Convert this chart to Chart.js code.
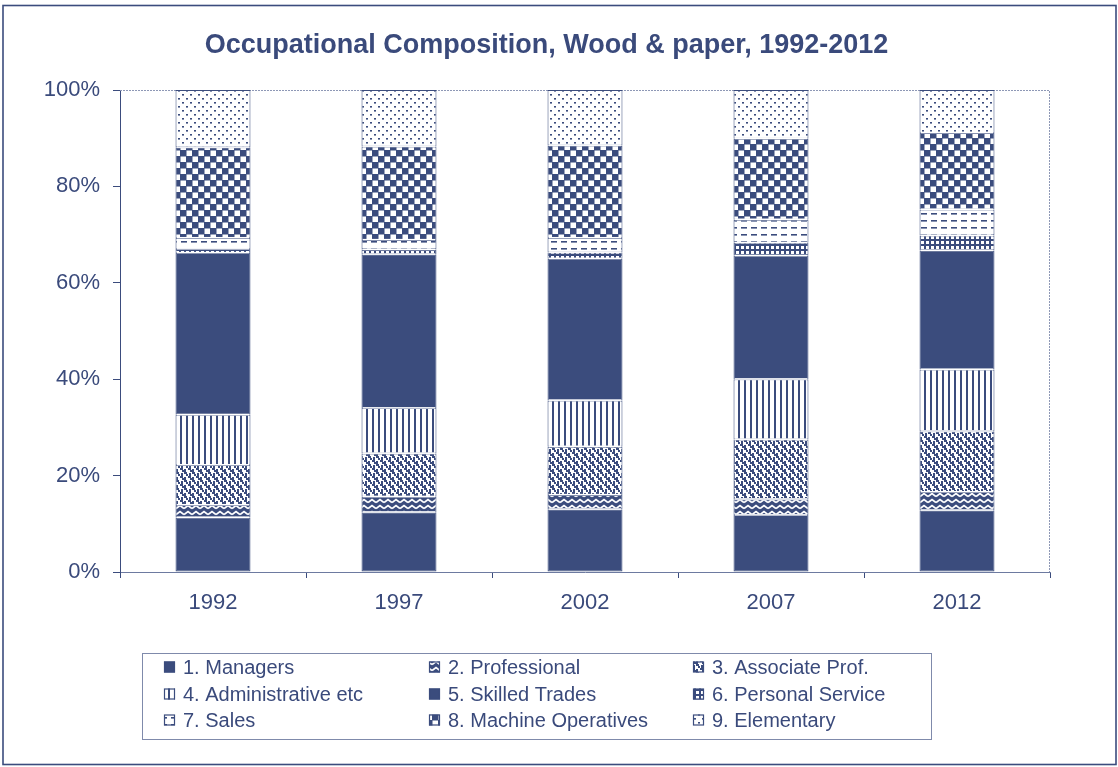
<!DOCTYPE html>
<html>
<head>
<meta charset="utf-8">
<script src="https://cdn.jsdelivr.net/npm/chart.js@4.4.1/dist/chart.umd.min.js"></script>
<style>
html,body{margin:0;padding:0;background:#fff;}
#wrap{width:1118px;height:767px;position:relative;}
canvas{display:block;}
</style>
</head>
<body>
<div id="wrap"><canvas id="c" width="1118" height="767"></canvas></div>
<script>
// ---- data (percent of employment) ----
const years = ['1992', '1997', '2002', '2007', '2012'];
const seriesLabels = ['1. Managers', '2. Professional', '3. Associate Prof.', '4. Administrative etc',
  '5. Skilled Trades', '6. Personal Service', '7. Sales', '8. Machine Operatives', '9. Elementary'];
const managers          = [11.3, 12.4, 13.0, 11.8, 12.8];
const professional      = [2.6, 3.2, 3.0, 3.3, 3.8];
const associateProf     = [8.3, 9.0, 10.0, 12.4, 12.6];
const administrative    = [10.4, 9.4, 9.6, 12.5, 12.8];
const skilledTrades     = [33.6, 31.9, 29.4, 25.6, 24.7];
const personalService   = [0.8, 1.0, 1.3, 2.7, 3.1];
const sales             = [2.3, 2.0, 3.0, 4.8, 5.4];
const machineOperatives = [18.8, 19.4, 19.2, 16.8, 15.9];
const elementary        = [11.9, 11.7, 11.5, 10.1, 8.9];
const yTickValues = [0, 20, 40, 60, 80, 100];
const titleText = 'Occupational Composition, Wood & paper, 1992-2012';

const BLUE = '#3b4c7d';
const TEXT = '#3a4a7b';
const FONT = "'Liberation Sans', Arial, sans-serif";

const canvas = document.getElementById('c');
const mainCtx = canvas.getContext('2d');

function tile(w, h, bg, draw) {
  const c = document.createElement('canvas');
  c.width = w; c.height = h;
  const x = c.getContext('2d');
  x.fillStyle = bg; x.fillRect(0, 0, w, h);
  x.fillStyle = BLUE; x.strokeStyle = BLUE;
  draw(x);
  return mainCtx.createPattern(c, 'repeat');
}

const patSolid = BLUE;
const patZigzag = tile(8, 6, BLUE, x => {
  x.strokeStyle = '#fff'; x.lineWidth = 1.8;
  x.beginPath(); x.moveTo(0, 4.5); x.lineTo(4, 1.5); x.lineTo(8, 4.5); x.stroke();
});
const patConfetti = tile(8, 8, '#fff', x => {
  x.fillRect(0, 0, 3, 2); x.fillRect(2, 2, 2, 2);
  x.fillRect(5, 1, 2, 3); x.fillRect(4, 4, 3, 2);
  x.fillRect(0, 5, 2, 3); x.fillRect(6, 6, 2, 2);
});
const patVStripes = tile(6, 4, '#fff', x => { x.fillRect(0, 0, 2, 4); });
const patGrid = tile(5, 5, BLUE, x => { x.fillStyle = '#fff'; x.fillRect(1, 1, 3, 3); });
const patDashes = tile(10, 7, '#fff', x => { x.fillRect(1, 3, 6, 1.6); });
const patChecker = tile(12, 12, BLUE, x => {
  x.fillStyle = '#fff'; x.fillRect(0.5, 0.5, 5.5, 5.5); x.fillRect(6.5, 6.5, 5.5, 5.5);
});
const patDots = tile(8, 8, '#fff', x => { x.fillRect(2, 2, 2, 1.6); x.fillRect(6, 6, 2, 1.6); });

const seriesValues = [managers, professional, associateProf, administrative, skilledTrades,
  personalService, sales, machineOperatives, elementary];
const seriesFills = [patSolid, patZigzag, patConfetti, patVStripes, patSolid,
  patGrid, patDashes, patChecker, patDots];

const datasets = seriesLabels.map((label, i) => ({
  label,
  data: seriesValues[i],
  backgroundColor: seriesFills[i],
  borderColor: BLUE,
  borderWidth: 1,
  borderSkipped: false,
  barPercentage: 0.403,
  categoryPercentage: 1.0
}));

// frame around the whole picture
const framePlugin = {
  id: 'frame',
  beforeDraw(chart) {
    const ctx = chart.ctx;
    ctx.save();
    ctx.fillStyle = '#fff'; ctx.fillRect(0, 0, chart.width, chart.height);
    ctx.strokeStyle = BLUE; ctx.lineWidth = 1.6;
    ctx.strokeRect(3, 5.5, 1113, 759);
    ctx.restore();
  },
  beforeDatasetsDraw(chart) {
    const {ctx, chartArea: a} = chart;
    ctx.save();
    ctx.strokeStyle = '#8e98b6'; ctx.lineWidth = 1; ctx.setLineDash([2, 1]);
    ctx.beginPath();
    ctx.moveTo(a.left, a.top + 0.5); ctx.lineTo(a.right - 0.5, a.top + 0.5);
    ctx.lineTo(a.right - 0.5, a.bottom);
    ctx.stroke();
    ctx.restore();
  }
};

// thin white separators between stacked segments
const gapPlugin = {
  id: 'gaps',
  afterDatasetsDraw(chart) {
    const ctx = chart.ctx;
    ctx.save();
    ctx.fillStyle = '#fff';
    chart.data.datasets.forEach((ds, di) => {
      if (di === 0) return;
      chart.getDatasetMeta(di).data.forEach(el => {
        const p = el.getProps(['x', 'base', 'width'], true);
        ctx.fillRect(p.x - p.width / 2 + 1, p.base - 1, p.width - 2, 1.5);
      });
    });
    ctx.restore();
  }
};

// boxed three-column legend
const boxLegendPlugin = {
  id: 'boxLegend',
  afterDraw(chart) {
    const ctx = chart.ctx;
    const cols = [164, 429, 693];
    const rows = [667, 694, 720];
    ctx.save();
    ctx.strokeStyle = '#7f8aab'; ctx.lineWidth = 1;
    ctx.strokeRect(142.5, 653.5, 789, 86);
    ctx.font = '20px ' + FONT;
    ctx.textBaseline = 'middle';
    ctx.fillStyle = TEXT;
    chart.data.datasets.forEach((ds, i) => {
      const cx = cols[i % 3], cy = rows[Math.floor(i / 3)];
      ctx.fillStyle = ds.backgroundColor;
      ctx.fillRect(cx, cy - 5.5, 11, 11);
      ctx.strokeStyle = BLUE; ctx.lineWidth = 1.2;
      ctx.strokeRect(cx + 0.5, cy - 5, 10, 10);
      ctx.fillStyle = TEXT;
      ctx.fillText(ds.label, cx + 19, cy + 1);
    });
    ctx.restore();
  }
};

new Chart(canvas, {
  type: 'bar',
  data: { labels: years, datasets },
  options: {
    responsive: false,
    animation: false,
    devicePixelRatio: 1,
    layout: { padding: { left: 43, right: 68, top: 10, bottom: 100 } },
    plugins: {
      legend: { display: false },
      tooltip: { enabled: false },
      title: {
        display: true,
        text: titleText,
        color: TEXT,
        font: { family: FONT, size: 27, weight: 'bold', lineHeight: 1.2 },
        padding: { top: 19, bottom: 28.6 }
      }
    },
    scales: {
      x: {
        stacked: true,
        grid: { display: true, drawOnChartArea: false, drawTicks: true, tickLength: 6, color: BLUE, offset: true },
        border: { display: true, color: '#6d7aa0', width: 1 },
        ticks: { color: TEXT, font: { family: FONT, size: 22 }, padding: 12 },
        afterFit(scale) { scale.height = 95; }
      },
      y: {
        stacked: true,
        min: 0, max: 100,
        afterBuildTicks(scale) { scale.ticks = yTickValues.map(v => ({ value: v })); },
        grid: { display: true, drawOnChartArea: false, drawTicks: true, tickLength: 7, color: BLUE },
        border: { display: true, color: BLUE, width: 1 },
        ticks: { color: TEXT, font: { family: FONT, size: 22 }, padding: 13, callback: v => v + '%' },
        afterFit(scale) { scale.width = 77; }
      }
    }
  },
  plugins: [framePlugin, gapPlugin, boxLegendPlugin]
});
</script>
</body>
</html>
